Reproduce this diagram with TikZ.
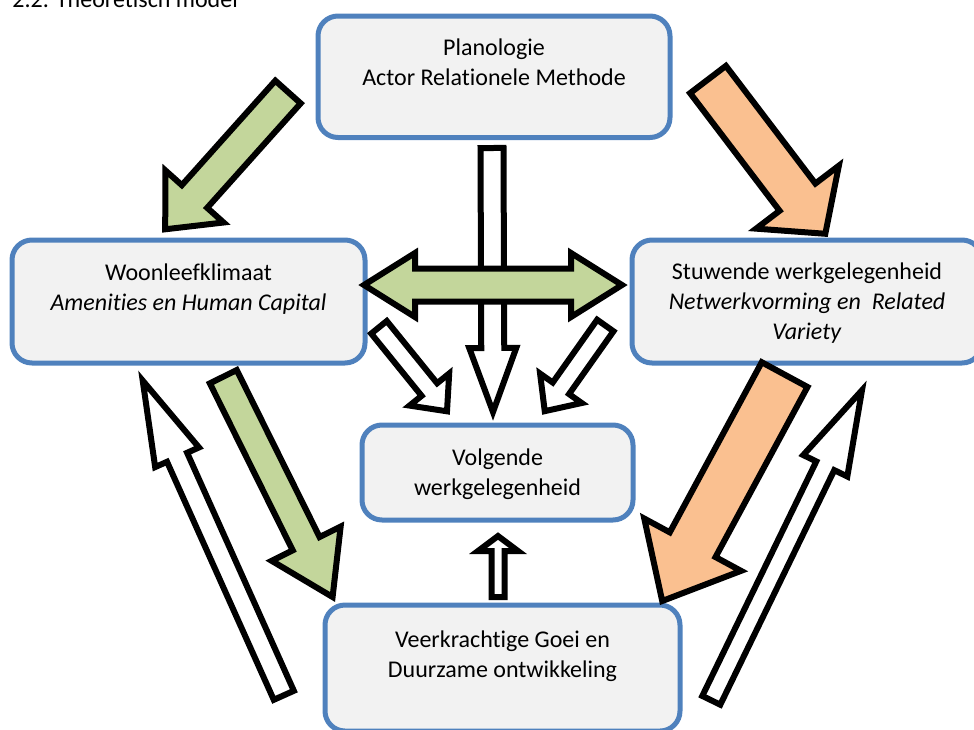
\documentclass[tikz,border=0pt]{standalone}
\usepackage{fontspec}
\setmainfont{Carlito}[Ligatures=NoCommon]
\usetikzlibrary{calc, positioning}
\definecolor{blokrand}{HTML}{4F81BD}
\definecolor{blokvul}{HTML}{F2F2F2}
\definecolor{pijlgroen}{HTML}{C3D69B}
\definecolor{pijloranje}{HTML}{FAC090}

% blokpijl: stijl, staart, punt, halve schacht, halve kop, koplengte (in px)
\newcommand{\blokpijl}[6]{%
  \draw[#1] let \p1=($(#3)-(#2)$), \n1={atan2(\y1,\x1)}, \n2={veclen(\x1,\y1)} in
    [shift={(#2)}, rotate=\n1]
    (0pt,-#4*0.5pt) -- (\n2-#6*0.5pt,-#4*0.5pt) -- (\n2-#6*0.5pt,-#5*0.5pt)
    -- (\n2+0pt,0pt) -- (\n2-#6*0.5pt,#5*0.5pt) -- (\n2-#6*0.5pt,#4*0.5pt)
    -- (0pt,#4*0.5pt) -- cycle;}
% dubbelpijl: stijl, punt 1, punt 2, halve schacht, halve kop, koplengte (in px)
\newcommand{\dubbelpijl}[6]{%
  \draw[#1] let \p1=($(#3)-(#2)$), \n1={atan2(\y1,\x1)}, \n2={veclen(\x1,\y1)} in
    [shift={(#2)}, rotate=\n1]
    (0pt,0pt) -- (#6*0.5pt,#5*0.5pt) -- (#6*0.5pt,#4*0.5pt)
    -- (\n2-#6*0.5pt,#4*0.5pt) -- (\n2-#6*0.5pt,#5*0.5pt) -- (\n2+0pt,0pt)
    -- (\n2-#6*0.5pt,-#5*0.5pt) -- (\n2-#6*0.5pt,-#4*0.5pt)
    -- (#6*0.5pt,-#4*0.5pt) -- (#6*0.5pt,-#5*0.5pt) -- cycle;}

\tikzset{
  blok/.style={draw=blokrand, fill=blokvul, line width=2.5pt, rounded corners=10pt, inner sep=0pt},
  bloktekst/.style={font=\fontsize{12}{15}\selectfont, align=center, inner sep=0pt},
  pijl/.style={draw=black, line width=3pt, line join=miter},
  groen/.style={pijl, fill=pijlgroen},
  oranje/.style={pijl, fill=pijloranje},
  wit/.style={pijl, fill=white}
}

\begin{document}
\begin{tikzpicture}[x=0.5pt, y=-0.5pt]
  \useasboundingbox (0,0) rectangle (974,729);

  % Titel (bovenkant valt buiten beeld)
  \node[anchor=base west, font=\fontsize{12}{15}\selectfont, inner sep=0pt] (titel) at (12,7) {2.2. Theoretisch model};

  % Blokken
  \node[blok, minimum width=176pt, minimum height=60.75pt] (plan) at (494,76.75) {};
  \node[blok, minimum width=176.5pt, minimum height=61.5pt] (woon) at (188.5,301.5) {};
  \node[blok, minimum width=175pt, minimum height=61.5pt] (stuw) at (807,301.5) {};
  \node[blok, minimum width=135.5pt, minimum height=47.5pt] (volg) at (497.5,472.5) {};
  \node[blok, minimum width=177.5pt, minimum height=63pt] (veer) at (502.5,668) {};

  \node[bloktekst, below=12.5pt of plan.north] (plantekst) {Planologie\\Actor Relationele Methode};
  \node[bloktekst, below=12.8pt of woon.north] (woontekst) {Woonleefklimaat\\\textit{Amenities en Human Capital}};
  \node[bloktekst, below=12.5pt of stuw.north] (stuwtekst) {Stuwende werkgelegenheid\\\textit{Netwerkvorming en~~Related}\\\textit{Variety}};
  \node[bloktekst, below=12.8pt of volg.north] (volgtekst) {Volgende\\werkgelegenheid};
  \node[bloktekst, below=14pt of veer.north] (veertekst) {Veerkrachtige Goei en\\Duurzame ontwikkeling};

  % Eindpunten van de pijlen
  \coordinate (plan-woon-s) at (288,92);     \coordinate (plan-woon-e) at (165,229.5);
  \coordinate (plan-stuw-s) at (708,79.5);   \coordinate (plan-stuw-e) at (825.5,234);
  \coordinate (plan-volg-s) at (492,148);    \coordinate (plan-volg-e) at (493,412);
  \coordinate (woon-stuw-s) at (364,285);    \coordinate (woon-stuw-e) at (622,285);
  \coordinate (woon-volg-s) at (379,327.3);  \coordinate (woon-volg-e) at (447,411.3);
  \coordinate (stuw-volg-s) at (605.3,325.5); \coordinate (stuw-volg-e) at (544.7,411.2);
  \coordinate (woon-veer-s) at (223.3,376.7); \coordinate (woon-veer-e) at (332.6,597);
  \coordinate (veer-woon-s) at (283.8,695.3); \coordinate (veer-woon-e) at (142.7,380.6);
  \coordinate (stuw-veer-s) at (784.6,374.6); \coordinate (stuw-veer-e) at (662.2,601);
  \coordinate (veer-stuw-s) at (711.3,700.3); \coordinate (veer-stuw-e) at (862,390.2);
  \coordinate (veer-volg-s) at (498,597);    \coordinate (veer-volg-e) at (498,536);

  % Witte pijlen
  \foreach \s/\e/\a/\b/\c in {plan-volg-s/plan-volg-e/11.5/23.5/64,
      woon-volg-s/woon-volg-e/10/25.5/28, stuw-volg-s/stuw-volg-e/10/25.5/28,
      veer-woon-s/veer-woon-e/11/24/84, veer-stuw-s/veer-stuw-e/10/24.5/84,
      veer-volg-s/veer-volg-e/6.5/20/15}
    \blokpijl{wit}{\s}{\e}{\a}{\b}{\c};

  % Gekleurde pijlen
  \blokpijl{groen}{plan-woon-s}{plan-woon-e}{17}{39}{44}
  \blokpijl{groen}{woon-veer-s}{woon-veer-e}{15}{38.5}{59.5}
  \blokpijl{oranje}{plan-stuw-s}{plan-stuw-e}{22.5}{52}{46}
  \blokpijl{oranje}{stuw-veer-s}{stuw-veer-e}{26}{55}{64}
  \dubbelpijl{groen}{woon-stuw-s}{woon-stuw-e}{16.5}{32}{51}
\end{tikzpicture}
\end{document}
